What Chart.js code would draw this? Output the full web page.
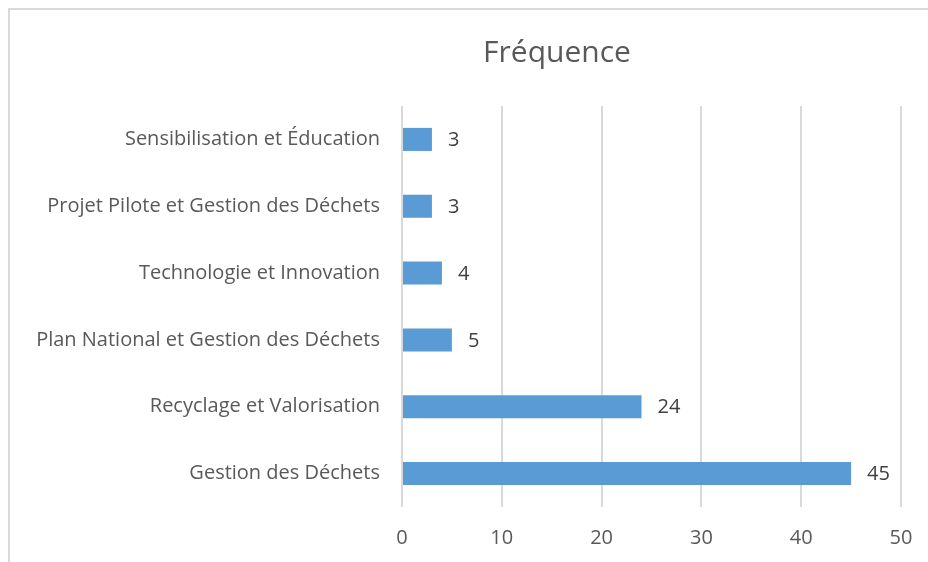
<!DOCTYPE html>
<html>
<head>
<meta charset="utf-8">
<script src="https://cdn.jsdelivr.net/npm/chart.js@4"></script>
<style>
    html, body { margin: 0; padding: 0; background: #fff; }
    #wrap { position: relative; width: 928px; height: 562px; overflow: hidden; }
    #frame {
        position: absolute; left: 8px; top: 8px; width: 1000px; height: 700px;
        border: 2px solid #d9d9d9; box-sizing: border-box;
    }
    #chart { position: absolute; left: 0; top: 0; }
</style>
</head>
<body>
<div id="wrap">
    <div id="frame"></div>
    <canvas id="chart" width="928" height="562"></canvas>
</div>
<script>
(function () {
    'use strict';

    // Categories, top to bottom as shown
    var CATEGORIES = [
        'Sensibilisation et Éducation',
        'Projet Pilote et Gestion des Déchets',
        'Technologie et Innovation',
        'Plan National et Gestion des Déchets',
        'Recyclage et Valorisation',
        'Gestion des Déchets',
    ];
    var FREQUENCES = [3, 3, 4, 5, 24, 45];
    var X_TICKS = [0, 10, 20, 30, 40, 50];
    var TITLE = 'Fréquence';

    var FONT = "'Open Sans', 'Liberation Sans', sans-serif";
    var TEXT = '#595959';
    var GRID = '#d9d9d9';

    // Chart title, centred over the whole chart frame (as Excel does)
    var frameTitle = {
        id: 'frameTitle',
        afterDraw: function (chart) {
            var ctx = chart.ctx;
            ctx.save();
            ctx.font = '30px ' + FONT;
            ctx.fillStyle = TEXT;
            ctx.textAlign = 'center';
            ctx.textBaseline = 'middle';
            ctx.fillText(TITLE, 557, 53);
            ctx.restore();
        },
    };

    // Value labels to the right of each bar
    var valueLabels = {
        id: 'valueLabels',
        afterDatasetsDraw: function (chart) {
            var ctx = chart.ctx;
            var meta = chart.getDatasetMeta(0);
            ctx.save();
            ctx.font = '20px ' + FONT;
            ctx.fillStyle = '#404040';
            ctx.textAlign = 'left';
            ctx.textBaseline = 'middle';
            meta.data.forEach(function (bar, i) {
                ctx.fillText(String(FREQUENCES[i]), bar.x + 16, bar.y + 1);
            });
            ctx.restore();
        },
    };

    new Chart(document.getElementById('chart'), {
        type: 'bar',
        data: {
            labels: CATEGORIES,
            datasets: [{
                label: TITLE,
                data: FREQUENCES,
                backgroundColor: '#5b9bd5',
                borderWidth: 0,
                categoryPercentage: 1,
                barPercentage: 0.345,
            }],
        },
        options: {
            indexAxis: 'y',
            responsive: false,
            animation: false,
            layout: { padding: { left: 8, right: 27, top: 106, bottom: 0 } },
            plugins: {
                legend: { display: false },
                tooltip: { enabled: false },
                title: { display: false },
            },
            scales: {
                x: {
                    min: 0,
                    max: 50,
                    afterBuildTicks: function (axis) {
                        axis.ticks = X_TICKS.map(function (v) { return { value: v }; });
                    },
                    afterFit: function (axis) {
                        axis.height = 55;
                        axis.paddingLeft = 0;
                        axis.paddingRight = 0;
                    },
                    grid: { color: GRID, lineWidth: 2, drawTicks: false },
                    border: { display: false },
                    ticks: {
                        color: TEXT,
                        font: { family: FONT, size: 20 },
                        padding: 19,
                    },
                },
                y: {
                    afterFit: function (axis) { axis.width = 394; },
                    grid: { display: false },
                    border: { display: false },
                    ticks: {
                        color: TEXT,
                        font: { family: FONT, size: 20 },
                        padding: 14,
                    },
                },
            },
        },
        plugins: [frameTitle, valueLabels],
    });
})();
</script>
</body>
</html>
